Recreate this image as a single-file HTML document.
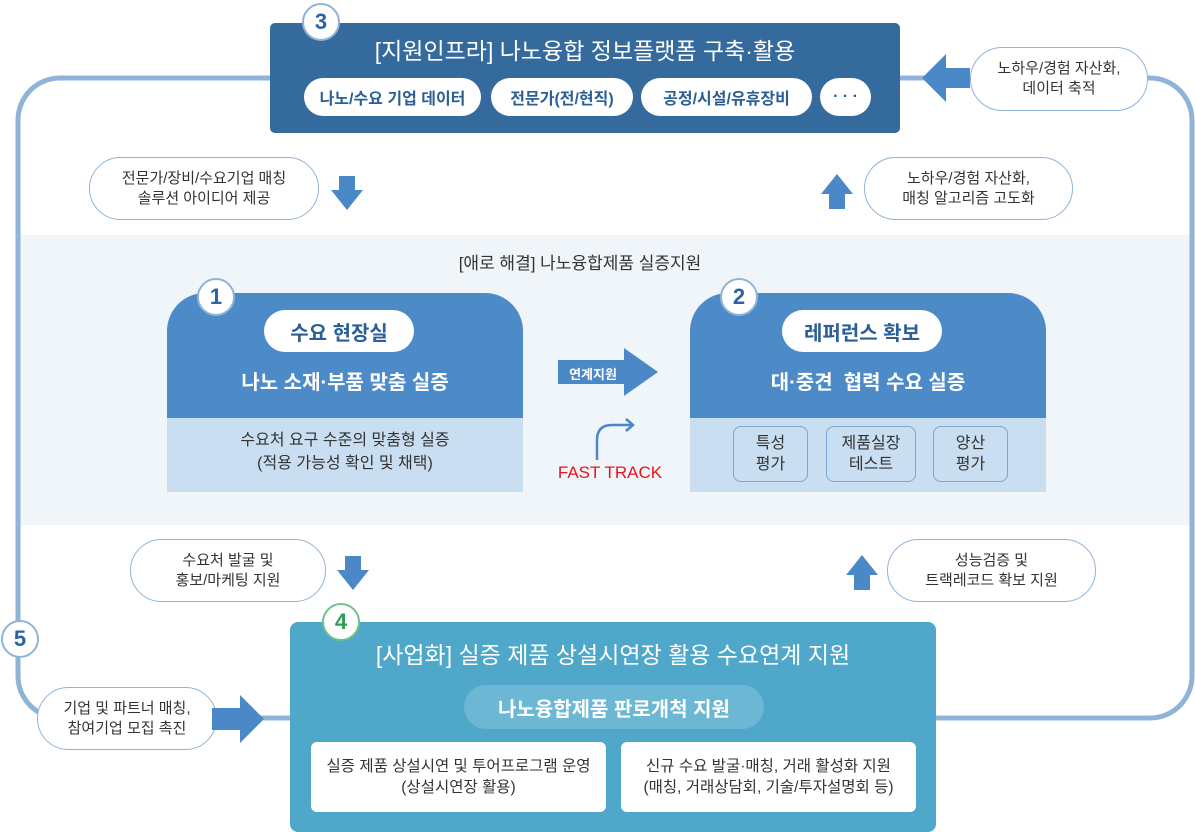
<!DOCTYPE html>
<html><head><meta charset="utf-8"><style>
*{margin:0;padding:0;box-sizing:border-box}
body{width:1195px;height:832px;background:#fff;position:relative;overflow:hidden;font-family:"Liberation Sans","Noto Sans CJK KR",sans-serif;color:#333}
.a{position:absolute}
.c{display:flex;align-items:center;justify-content:center;text-align:center}
.bub{position:absolute;background:#fff;border:1px solid #8fb4d8;border-radius:40px;font-size:15px;line-height:20px;color:#333;display:flex;align-items:center;justify-content:center;text-align:center}
.num{position:absolute;width:38px;height:38px;border-radius:50%;background:#fff;border:2px solid #8fb4d8;font-size:22px;color:#2e63a3;display:flex;align-items:center;justify-content:center;font-weight:bold}
.pill{position:absolute;background:#fff;border-radius:20px;display:flex;align-items:center;justify-content:center;font-size:16px;color:#2b5f96;font-weight:bold}
</style></head><body>
<div class="a" style="left:20px;top:235px;width:1172px;height:290px;background:#f0f5f9"></div>
<svg class="a" style="left:0;top:0" width="1195" height="832">
<rect x="18" y="78" width="1174" height="640" rx="42" fill="none" stroke="#8fb4d8" stroke-width="5"/>
</svg>
<div class="a" style="left:270px;top:23px;width:630px;height:110px;background:#356a9c;border-radius:5px"></div>
<div class="a c" style="left:270px;top:31px;width:630px;height:36px;color:#fff;font-size:23px">[지원인프라] 나노융합 정보플랫폼 구축·활용</div>
<div class="pill" style="left:304px;top:78px;width:177px;height:38px">나노/수요 기업 데이터</div>
<div class="pill" style="left:491px;top:78px;width:142px;height:38px">전문가(전/현직)</div>
<div class="pill" style="left:641px;top:78px;width:171px;height:38px">공정/시설/유휴장비</div>
<div class="pill" style="left:820px;top:78px;width:51px;height:38px">· · ·</div>
<div class="num" style="left:302px;top:3px">3</div>
<svg class="a" style="left:920px;top:52px" width="52" height="52"><polygon points="2,26 26,2 26,16 50,16 50,36 26,36 26,50" fill="#4a88c7"/></svg>
<div class="bub" style="left:970px;top:47px;width:178px;height:64px">노하우/경험 자산화,<br>데이터 축적</div>
<div class="bub" style="left:89px;top:157px;width:230px;height:63px">전문가/장비/수요기업 매칭<br>솔루션 아이디어 제공</div>
<svg class="a" style="left:330px;top:176px" width="34" height="36"><polygon points="9,0 25,0 25,14 33,14 17,34 1,14 9,14" fill="#4a88c7"/></svg>
<svg class="a" style="left:820px;top:174px" width="34" height="36"><polygon points="17,0 33,20 25,20 25,35 9,35 9,20 1,20" fill="#4a88c7"/></svg>
<div class="bub" style="left:864px;top:157px;width:209px;height:63px">노하우/경험 자산화,<br>매칭 알고리즘 고도화</div>
<div class="a c" style="left:380px;top:249px;width:400px;height:24px;font-size:17px;color:#333">[애로 해결] 나노융합제품 실증지원</div>
<div class="a" style="left:167px;top:293px;width:356px;height:125px;background:#4d8ac8;border-radius:38px 38px 0 0"></div>
<div class="a" style="left:167px;top:418px;width:356px;height:74px;background:#c9def0"></div>
<div class="pill" style="left:264px;top:310px;width:150px;height:42px;border-radius:21px;font-size:20px">수요 현장실</div>
<div class="a c" style="left:167px;top:365px;width:356px;height:30px;color:#fff;font-size:20px;font-weight:bold">나노 소재·부품 맞춤 실증</div>
<div class="a c" style="left:167px;top:427px;width:356px;height:50px;font-size:16px;line-height:23px">수요처 요구 수준의 맞춤형 실증<br>(적용 가능성 확인 및 채택)</div>
<div class="num" style="left:197px;top:278px">1</div>
<svg class="a" style="left:556px;top:348px" width="104" height="50"><polygon points="2,12 68,12 68,0 102,24 68,48 68,36 2,36" fill="#4a88c7"/></svg>
<div class="a c" style="left:558px;top:361px;width:70px;height:24px;color:#fff;font-size:13px;font-weight:bold">연계지원</div>
<svg class="a" style="left:590px;top:410px" width="50" height="55"><path d="M7,50 V30 Q7,15 22,15 H42" fill="none" stroke="#4a88c7" stroke-width="2.5"/><path d="M36,9 L43,15 L36,21" fill="none" stroke="#4a88c7" stroke-width="2.5"/></svg>
<div class="a c" style="left:550px;top:460px;width:120px;height:26px;color:#e8141b;font-size:17px">FAST TRACK</div>
<div class="a" style="left:690px;top:293px;width:356px;height:125px;background:#4d8ac8;border-radius:38px 38px 0 0"></div>
<div class="a" style="left:690px;top:418px;width:356px;height:74px;background:#c9def0"></div>
<div class="pill" style="left:782px;top:310px;width:160px;height:42px;border-radius:21px;font-size:20px">레퍼런스 확보</div>
<div class="a c" style="left:690px;top:365px;width:356px;height:30px;color:#fff;font-size:20px;font-weight:bold">대·중견&nbsp; 협력 수요 실증</div>
<div class="a c" style="left:733px;top:426px;width:75px;height:56px;border:1px solid #7ea6d4;border-radius:8px;font-size:16px;line-height:21px">특성<br>평가</div>
<div class="a c" style="left:826px;top:426px;width:90px;height:56px;border:1px solid #7ea6d4;border-radius:8px;font-size:16px;line-height:21px">제품실장<br>테스트</div>
<div class="a c" style="left:933px;top:426px;width:75px;height:56px;border:1px solid #7ea6d4;border-radius:8px;font-size:16px;line-height:21px">양산<br>평가</div>
<div class="num" style="left:720px;top:278px">2</div>
<div class="bub" style="left:130px;top:539px;width:196px;height:63px">수요처 발굴 및<br>홍보/마케팅 지원</div>
<svg class="a" style="left:336px;top:556px" width="34" height="36"><polygon points="9,0 25,0 25,14 33,14 17,34 1,14 9,14" fill="#4a88c7"/></svg>
<svg class="a" style="left:845px;top:555px" width="34" height="36"><polygon points="17,0 33,20 25,20 25,35 9,35 9,20 1,20" fill="#4a88c7"/></svg>
<div class="bub" style="left:887px;top:539px;width:209px;height:63px">성능검증 및<br>트랙레코드 확보 지원</div>
<div class="a" style="left:290px;top:622px;width:646px;height:210px;background:#4fa8c9;border-radius:8px"></div>
<div class="a c" style="left:290px;top:635px;width:646px;height:36px;color:#fff;font-size:23px">[사업화] 실증 제품 상설시연장 활용 수요연계 지원</div>
<div class="a c" style="left:464px;top:685px;width:300px;height:44px;border-radius:22px;background:#6bb7d4;color:#fff;font-size:20px;font-weight:bold">나노융합제품 판로개척 지원</div>
<div class="a c" style="left:311px;top:742px;width:295px;height:70px;background:#fff;border-radius:6px;font-size:15.5px;line-height:21px">실증 제품 상설시연 및 투어프로그램 운영<br>(상설시연장 활용)</div>
<div class="a c" style="left:621px;top:742px;width:295px;height:70px;background:#fff;border-radius:6px;font-size:15.5px;line-height:21px">신규 수요 발굴·매칭, 거래 활성화 지원<br>(매칭, 거래상담회, 기술/투자설명회 등)</div>
<div class="num" style="left:322px;top:603px;border-color:#6fc28f;color:#2f9e55">4</div>
<div class="num" style="left:1px;top:620px">5</div>
<div class="bub" style="left:37px;top:687px;width:180px;height:63px">기업 및 파트너 매칭,<br>참여기업 모집 촉진</div>
<svg class="a" style="left:212px;top:694px" width="54" height="50"><polygon points="0,14 28,14 28,1 52,25 28,49 28,36 0,36" fill="#4a88c7"/></svg>
</body></html>
